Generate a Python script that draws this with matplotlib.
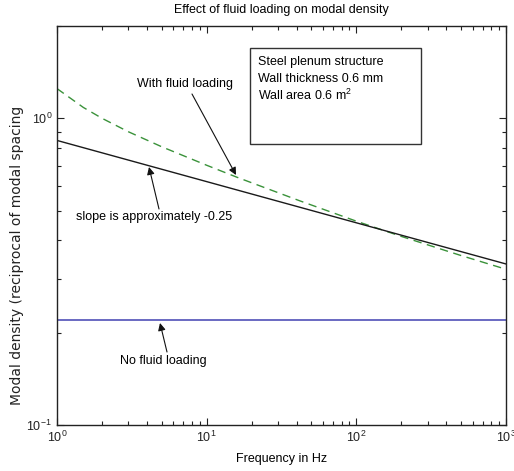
import matplotlib
matplotlib.use("Agg")
import matplotlib.pyplot as plt
from matplotlib.ticker import LogLocator, LogFormatterMathtext, NullFormatter

# ---- data ----
freq_fluid = [1, 1.5, 2, 3, 5, 10, 16, 42, 100, 200, 500, 1000]
dens_fluid = [1.25, 1.085, 1.0, 0.904, 0.808, 0.703, 0.642, 0.538, 0.462, 0.412, 0.357, 0.322]

freq_fit = [1, 1000]
dens_fit = [0.847, 0.335]

freq_nofluid = [1, 1000]
dens_nofluid = [0.22, 0.22]

title = "Effect of fluid loading on modal density"
xlabel = "Frequency in Hz"
ylabel = "Modal density (reciprocal of modal spacing"
box_lines = ["Steel plenum structure", "Wall thickness 0.6 mm", "Wall area 0.6 m$^2$"]

W, H = 514, 471
plt.rcParams['font.family'] = ['Liberation Sans', 'DejaVu Sans']
plt.rcParams['mathtext.fontset'] = 'custom'
plt.rcParams['mathtext.rm'] = 'Liberation Sans'
fig = plt.figure(figsize=(W / 100, H / 100), dpi=100)


def fx(x):
    return x / W


def fy(y):
    return 1 - y / H


ax = fig.add_axes([fx(57), fy(425), (506 - 57) / W, (425 - 26) / H])
ax.plot(freq_fluid, dens_fluid, '--', color='#3a923a', lw=1.0, dashes=(6, 4))
ax.plot(freq_fit, dens_fit, '-', color='#1a1a1a', lw=1.0)
ax.plot(freq_nofluid, dens_nofluid, '-', color='#5050b8', lw=1.2)

ax.set_xscale('log')
ax.set_yscale('log')
ax.set_xlim(1, 1000)
ax.set_ylim(0.1, 2)

ax.xaxis.set_major_locator(LogLocator(base=10, numticks=10))
ax.yaxis.set_major_locator(LogLocator(base=10, numticks=10))
ax.xaxis.set_major_formatter(LogFormatterMathtext())
ax.yaxis.set_major_formatter(LogFormatterMathtext())
ax.xaxis.set_minor_locator(LogLocator(base=10, subs=range(2, 10), numticks=20))
ax.yaxis.set_minor_locator(LogLocator(base=10, subs=range(2, 10), numticks=20))
ax.xaxis.set_minor_formatter(NullFormatter())
ax.yaxis.set_minor_formatter(NullFormatter())
ax.tick_params(which='both', direction='in', top=True, right=True, labelsize=9, colors='#222222')
ax.tick_params(which='major', length=5, width=0.8)
ax.tick_params(which='minor', length=3, width=0.8)
for s in ax.spines.values():
    s.set_linewidth(1.0)
    s.set_color('#222222')

ax.set_title(title, fontsize=9, pad=9)
ax.set_xlabel(xlabel, fontsize=9, labelpad=6)
fig.text(fx(17), fy(255), ylabel, rotation=90, ha='center', va='center',
         fontsize=10, family=['DejaVu Sans'], color='#222222')

# text box
fig.patches.append(plt.Rectangle((fx(250), fy(144)), (421 - 250) / W, (144 - 48) / H,
                                 transform=fig.transFigure, fill=False,
                                 edgecolor='#333333', lw=1.0))
for i, line in enumerate(box_lines):
    fig.text(fx(258), fy(62 + 16.5 * i), line, fontsize=9, va='center', ha='left')

arrow = dict(arrowstyle='-|>', color='#111111', lw=0.8, mutation_scale=11,
             shrinkA=0, shrinkB=0)

fig.text(fx(137), fy(84), "With fluid loading", fontsize=9, va='center', ha='left')
ax.annotate("", xy=(fx(236), fy(175)), xytext=(fx(192), fy(94)),
            xycoords='figure fraction', textcoords='figure fraction', arrowprops=arrow)

fig.text(fx(76), fy(217), "slope is approximately -0.25", fontsize=9, va='center', ha='left')
ax.annotate("", xy=(fx(149), fy(167)), xytext=(fx(159), fy(209)),
            xycoords='figure fraction', textcoords='figure fraction', arrowprops=arrow)

fig.text(fx(120), fy(361), "No fluid loading", fontsize=9, va='center', ha='left')
ax.annotate("", xy=(fx(160), fy(323)), xytext=(fx(167), fy(352)),
            xycoords='figure fraction', textcoords='figure fraction', arrowprops=arrow)

fig.savefig("out.png", dpi=100)
